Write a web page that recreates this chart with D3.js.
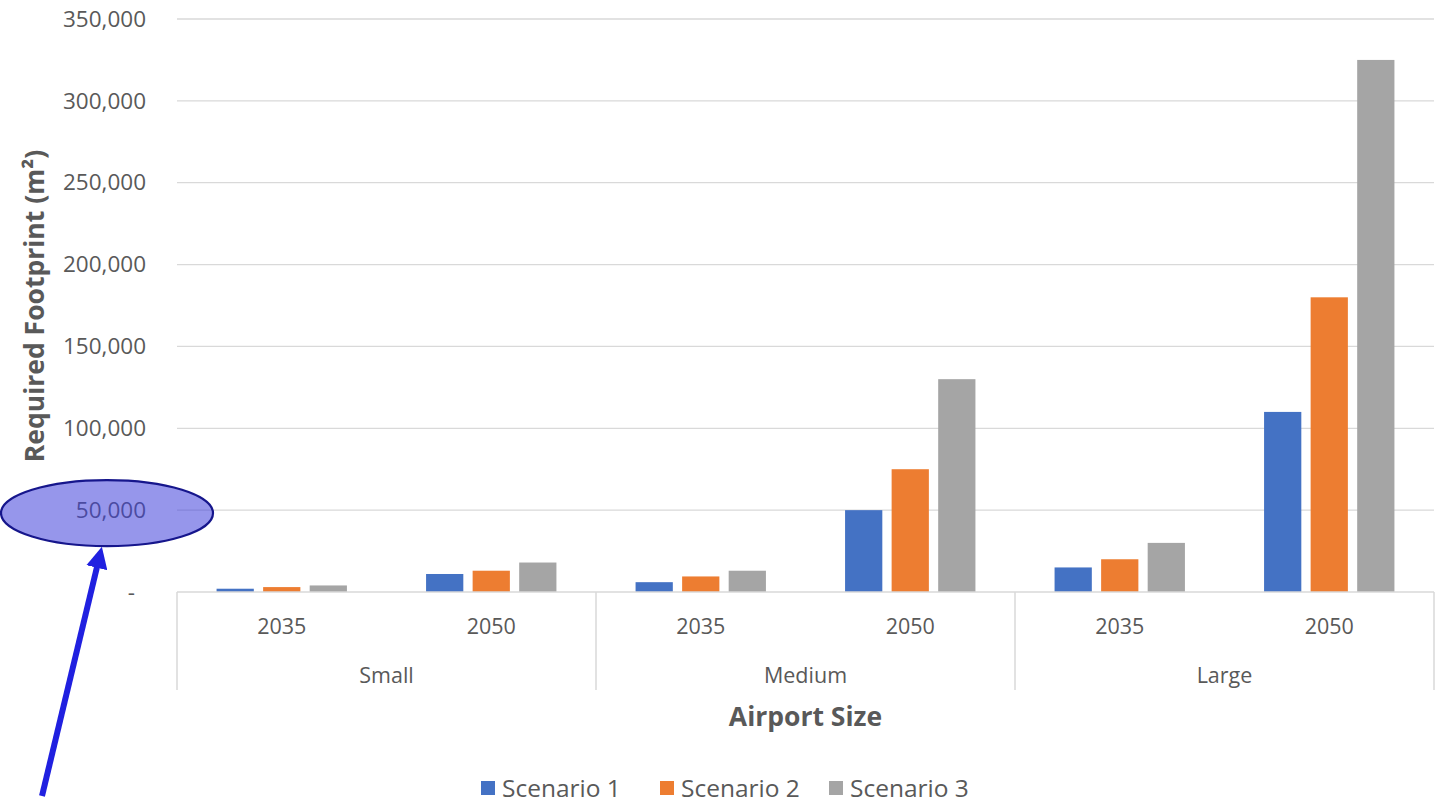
<!DOCTYPE html>
<html>
<head>
<meta charset="utf-8">
<script src="https://cdn.jsdelivr.net/npm/d3@7"></script>
<style>
  html, body { margin: 0; padding: 0; background: #ffffff; }
  svg { display: block; font-family: "Open Sans", "DejaVu Sans", sans-serif; }
</style>
</head>
<body>
<svg id="chart" width="1441" height="802"></svg>
<script>
// Airport sizes and planning years (two-level category axis)
const sizes = ["Small", "Medium", "Large"];
const years = ["2035", "2050"];
const scenarios = ["Scenario 1", "Scenario 2", "Scenario 3"];

// Required footprint (m²), one value per size/year pair, in axis order
const scenario1 = [2000, 11000, 6000, 50000, 15000, 110000];
const scenario2 = [3000, 13000, 9500, 75000, 20000, 180000];
const scenario3 = [4000, 18000, 13000, 130000, 30000, 325000];

const yTicks = [0, 50000, 100000, 150000, 200000, 250000, 300000, 350000];
const colors = ["#4472c4", "#ed7d31", "#a5a5a5"];

const svg = d3.select("#chart");
const plot = { left: 177, right: 1434, top: 19, bottom: 592 };
const textColor = "#595959";
const gridColor = "#d9d9d9";

const keys = [];
sizes.forEach(s => years.forEach(y => keys.push(s + "|" + y)));
const series = [scenario1, scenario2, scenario3];
const rows = keys.map((k, i) => ({
  key: k, size: k.split("|")[0], year: k.split("|")[1],
  values: series.map((vals, j) => ({ name: scenarios[j], value: vals[i], idx: j }))
}));

const x0 = d3.scaleBand().domain(keys).range([plot.left, plot.right]).padding(0);
const x1 = d3.scaleBand().domain(scenarios).range([0, x0.bandwidth()])
  .paddingInner(0.2).paddingOuter(0.85);
const y = d3.scaleLinear().domain([0, 350000]).range([plot.bottom, plot.top]);

// Horizontal gridlines
svg.append("g").selectAll("line").data(yTicks.filter(d => d > 0)).join("line")
  .attr("x1", plot.left).attr("x2", plot.right)
  .attr("y1", d => y(d)).attr("y2", d => y(d))
  .attr("stroke", gridColor).attr("stroke-width", 1.3);

// Y axis tick labels
const yAxis = d3.axisLeft(y).tickValues(yTicks).tickSize(0).tickPadding(31)
  .tickFormat(d => d === 0 ? "-" : d3.format(",")(d));
const gy = svg.append("g").attr("transform", `translate(${plot.left},0)`).call(yAxis);
gy.select(".domain").remove();
gy.selectAll("text")
  .attr("fill", textColor).attr("font-size", 22.5)
  .attr("font-family", "'Open Sans', sans-serif")
  .attr("dx", d => d === 0 ? -11 : 0);

// Bars
svg.append("g").selectAll("g").data(rows).join("g")
  .attr("transform", d => `translate(${x0(d.key)},0)`)
  .selectAll("rect").data(d => d.values).join("rect")
  .attr("x", d => x1(d.name))
  .attr("width", x1.bandwidth())
  .attr("y", d => y(d.value))
  .attr("height", d => y(0) - y(d.value))
  .attr("fill", d => colors[d.idx]);

// Category axis baseline and group separators
const axisG = svg.append("g");
axisG.append("line")
  .attr("x1", plot.left).attr("x2", plot.right)
  .attr("y1", plot.bottom).attr("y2", plot.bottom)
  .attr("stroke", gridColor).attr("stroke-width", 1.5);
const sepX = [plot.left].concat(sizes.map(s => x0(s + "|" + years[years.length - 1]) + x0.bandwidth()));
axisG.selectAll("line.sep").data(sepX).join("line").attr("class", "sep")
  .attr("x1", d => d).attr("x2", d => d)
  .attr("y1", plot.bottom).attr("y2", 690)
  .attr("stroke", gridColor).attr("stroke-width", 1.5);

// Year labels
axisG.selectAll("text.year").data(rows).join("text").attr("class", "year")
  .attr("x", d => x0(d.key) + x0.bandwidth() / 2)
  .attr("y", 634)
  .attr("text-anchor", "middle")
  .attr("fill", textColor).attr("font-size", 21.5)
  .text(d => d.year);

// Size labels
axisG.selectAll("text.size").data(sizes).join("text").attr("class", "size")
  .attr("x", s => x0(s + "|" + years[0]) + x0.bandwidth())
  .attr("y", 683)
  .attr("text-anchor", "middle")
  .attr("fill", textColor).attr("font-size", 21.5)
  .text(s => s);

// Axis titles
svg.append("text")
  .attr("x", (plot.left + plot.right) / 2).attr("y", 726)
  .attr("text-anchor", "middle")
  .attr("fill", textColor).attr("font-size", 26.5).attr("font-weight", "bold")
  .text("Airport Size");

svg.append("text")
  .attr("transform", "translate(44,306) rotate(-90)")
  .attr("text-anchor", "middle")
  .attr("fill", textColor).attr("font-size", 26.5).attr("font-weight", "bold")
  .text("Required Footprint (m²)");

// Legend
const legend = svg.append("g");
const legendX = [481, 660, 829];
scenarios.forEach((name, i) => {
  const g = legend.append("g").attr("transform", `translate(${legendX[i]},781)`);
  g.append("rect").attr("width", 14).attr("height", 14).attr("fill", colors[i]);
  g.append("text").attr("x", 21).attr("y", 15.5)
    .attr("fill", textColor).attr("font-size", 24.5).text(name);
});

// Highlight on the 50,000 tick with a pointer arrow
const note = svg.append("g");
note.append("ellipse")
  .attr("cx", 107).attr("cy", y(50000) + 3).attr("rx", 106).attr("ry", 33)
  .attr("fill", "rgb(64,64,218)").attr("fill-opacity", 0.55)
  .attr("stroke", "#16168c").attr("stroke-width", 2.2);

const defs = svg.append("defs");
defs.append("marker")
  .attr("id", "head").attr("viewBox", "0 0 10 10")
  .attr("refX", 1).attr("refY", 5)
  .attr("markerWidth", 3.6).attr("markerHeight", 3.6)
  .attr("markerUnits", "strokeWidth")
  .attr("orient", "auto")
  .append("path").attr("d", "M0,0 L10,5 L0,10 Z").attr("fill", "#2020e0");

const tip = [102, y(50000) + 36];
const tail = [42, 796];
const ang = Math.atan2(tip[1] - tail[1], tip[0] - tail[0]);
const headLen = 20;
note.append("line")
  .attr("x1", tail[0]).attr("y1", tail[1])
  .attr("x2", tip[0] - Math.cos(ang) * headLen).attr("y2", tip[1] - Math.sin(ang) * headLen)
  .attr("stroke", "#2020e0").attr("stroke-width", 6)
  .attr("marker-end", "url(#head)");
</script>
</body>
</html>
